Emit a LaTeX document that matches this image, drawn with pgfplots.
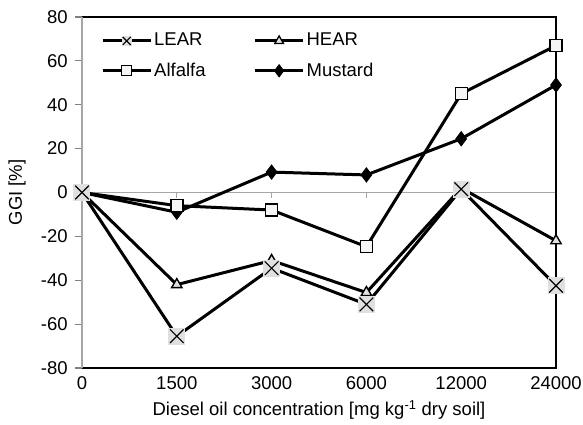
\documentclass[border=0pt]{standalone}
\usepackage{pgfplots}
\pgfplotsset{compat=1.18}
\usepackage{fontspec}
\setmainfont{Liberation Sans}
\pgfdeclareplotmark{graycross}{%
  \pgfpathrectangle{\pgfpoint{-\pgfplotmarksize}{-\pgfplotmarksize}}{\pgfpoint{2\pgfplotmarksize}{2\pgfplotmarksize}}%
  \pgfsetfillcolor{black!12}\pgfusepathqfill
  \pgfsetlinewidth{1.1pt}%
  \pgfpathmoveto{\pgfpoint{-0.8\pgfplotmarksize}{-0.8\pgfplotmarksize}}%
  \pgfpathlineto{\pgfpoint{0.8\pgfplotmarksize}{0.8\pgfplotmarksize}}%
  \pgfpathmoveto{\pgfpoint{-0.8\pgfplotmarksize}{0.8\pgfplotmarksize}}%
  \pgfpathlineto{\pgfpoint{0.8\pgfplotmarksize}{-0.8\pgfplotmarksize}}%
  \pgfusepathqstroke}
\begin{document}
\fontsize{18.5}{22}\selectfont
\begin{tikzpicture}
\useasboundingbox (-82pt,-57pt) rectangle (501pt,368pt);
\begin{axis}[
  at={(0,0)}, anchor=south west,
  scale only axis, width=474pt, height=351pt,
  xmin=0, xmax=5, ymin=-80, ymax=80,
  xtick={0,1,2,3,4,5},
  xticklabels={0,1500,3000,6000,12000,24000},
  ytick={-80,-60,-40,-20,0,20,40,60,80},
  axis line style={draw=none},
  tick align=outside,
  ytick pos=left, xtick pos=bottom,
  major tick length=7pt,
  ytick style={draw=gray, line width=1.2pt},
  xtick style={draw=none},
  /pgf/number format/assume math mode=true,
  tick label style={font=\fontsize{18.5}{22}\selectfont},
  yticklabel style={xshift=-1pt},
  xticklabel style={yshift=0pt, inner sep=1pt},
  label style={font=\fontsize{18.5}{22}\selectfont},
  xlabel={Diesel oil concentration [mg kg\textsuperscript{-1} dry soil]},
  ylabel={GGI [\%]},
  every axis y label/.style={at={(rel axis cs:0,0.5)}, xshift=-65pt, rotate=90, anchor=center},
  every axis x label/.style={at={(rel axis cs:0.5,0)}, yshift=-42pt, anchor=center, inner sep=1pt},
  clip=false,
  legend style={at={(rel axis cs:0,1)}, anchor=north west, xshift=16pt, yshift=-12pt,
    draw=none, fill=none, font=\fontsize{18.5}{22}\selectfont, row sep=10pt,
    /tikz/every even column/.append style={column sep=46pt}},
  legend columns=2,
  legend cell align=left,
  legend image code/.code={\draw[mark repeat=2,mark phase=2,#1] plot coordinates {(0pt,0pt) (24pt,0pt) (48pt,0pt)};},
  every axis plot/.append style={line width=3pt, black},
]
\addlegendimage{line width=3pt, black, mark=graycross, mark size=5pt, mark options={solid}}
\addlegendentry{LEAR}
\addlegendimage{line width=3pt, black, mark=triangle*, mark size=5pt, mark options={fill=black!12, line width=1.3pt}}
\addlegendentry{HEAR}
\addlegendimage{line width=3pt, black, mark=square*, mark size=5pt, mark options={fill=black!4, line width=1.3pt}}
\addlegendentry{Alfalfa}
\addlegendimage{line width=3pt, black, mark=diamond*, mark size=6pt, mark options={fill=black, line width=1pt}}
\addlegendentry{Mustard}

\addplot[gray!70, line width=1.5pt, forget plot] coordinates {(0,0) (5,0)};
\pgfplotsinvokeforeach{1,...,5}{\draw[gray!70, line width=1.2pt] (axis cs:#1,0) -- ++(0pt,-6pt);}
\draw[black, line width=1.6pt] (rel axis cs:0,1) -- (rel axis cs:1,1) -- (rel axis cs:1,0) -- (rel axis cs:0,0);
\draw[gray!70, line width=1.6pt] (rel axis cs:0,0) -- (rel axis cs:0,1);

\addplot[mark=diamond*, mark size=7pt, mark options={fill=black, line width=1pt}, forget plot]
  coordinates {(0,0) (1,-9) (2,9.3) (3,8.0) (4,24.5) (5,49)};
\addplot[mark=square*, mark size=6pt, mark options={fill=black!4, line width=1.4pt}, forget plot]
  coordinates {(0,0) (1,-6) (2,-8) (3,-24.7) (4,45) (5,67)};
\addplot[mark=triangle*, mark size=6pt, mark options={fill=black!12, line width=1.4pt}, forget plot]
  coordinates {(0,0) (1,-42) (2,-31) (3,-45.6) (4,2) (5,-22)};
\addplot[mark=graycross, mark size=8.5pt, forget plot]
  coordinates {(0,0) (1,-65.5) (2,-34.5) (3,-51) (4,1.5) (5,-42.5)};
\end{axis}
\end{tikzpicture}
\end{document}
